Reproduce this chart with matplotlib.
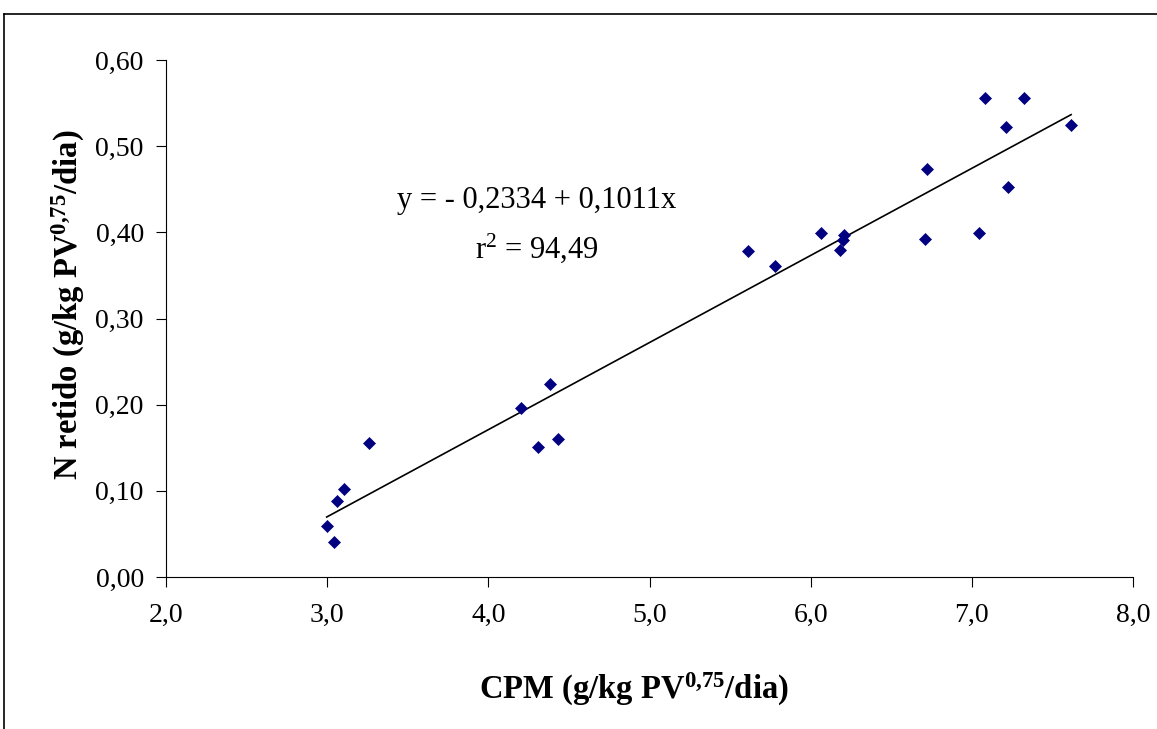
import matplotlib
matplotlib.use("Agg")
import matplotlib.pyplot as plt
from matplotlib.lines import Line2D
import numpy as np

# Data
cpm = [2.997, 3.044, 3.059, 3.106, 3.261, 4.200, 4.310, 4.382, 4.430,
       5.611, 5.778, 6.065, 6.185, 6.200, 6.205, 6.708, 6.721, 7.043,
       7.081, 7.211, 7.223, 7.321, 7.616]
n_retido = [0.0595, 0.041, 0.088, 0.102, 0.156, 0.1965, 0.151, 0.2236, 0.160,
            0.378, 0.361, 0.399, 0.380, 0.391, 0.397, 0.392, 0.473, 0.399,
            0.556, 0.5226, 0.453, 0.556, 0.525]
intercept = -0.2334
slope = 0.1011
x_ticks = [2.0, 3.0, 4.0, 5.0, 6.0, 7.0, 8.0]
x_ticklabels = ["2,0", "3,0", "4,0", "5,0", "6,0", "7,0", "8,0"]
y_ticks = [0.0, 0.1, 0.2, 0.3, 0.4, 0.5, 0.6]
y_ticklabels = ["0,00", "0,10", "0,20", "0,30", "0,40", "0,50", "0,60"]

plt.rcParams["font.family"] = ["Liberation Serif", "DejaVu Serif"]
plt.rcParams["mathtext.fontset"] = "custom"
plt.rcParams["mathtext.rm"] = "Liberation Serif"
plt.rcParams["mathtext.bf"] = "Liberation Serif:bold"
plt.rcParams["mathtext.it"] = "Liberation Serif:italic"

fig = plt.figure(figsize=(11.57, 7.29), dpi=100)
ax = fig.add_axes([166/1157, 1-577/729, (1133-166)/1157, (577-60)/729])

ax.plot(cpm, n_retido, linestyle="none", marker="D", markersize=6.6,
        color="#000080", markeredgecolor="#000080", markeredgewidth=0.5, zorder=3)
xl = np.array([min(cpm), max(cpm)])
ax.plot(xl, intercept + slope * xl, color="black", linewidth=1.2, zorder=2)

ax.set_xlim(2.0, 8.0)
ax.set_ylim(0.0, 0.6)
ax.set_xticks(x_ticks)
ax.set_xticklabels(x_ticklabels)
ax.set_yticks(y_ticks)
ax.set_yticklabels(y_ticklabels)
ax.tick_params(direction="out", length=7, width=0.8, labelsize=20, pad=9)
ax.tick_params(axis="x", pad=12)
for s in ["top", "right"]:
    ax.spines[s].set_visible(False)
for s in ["left", "bottom"]:
    ax.spines[s].set_linewidth(0.8)

fig.text(634/1157, 1-689/729, r"CPM (g/kg PV$^{\mathbf{0{,}75}}$/dia)",
         ha="center", va="center", fontsize=23.5, fontweight="bold")
fig.text(68/1157, 1-305/729, r"N retido (g/kg PV$^{\mathbf{0{,}75}}$/dia)",
         ha="center", va="center", fontsize=23.5, fontweight="bold", rotation=90)

ax.text(4.3, 0.437, "y = - 0,2334 + 0,1011x", ha="center", va="center", fontsize=22)
ax.text(4.3, 0.382, r"r$^2$ = 94,49", ha="center", va="center", fontsize=22)

# figure border (top and left edges visible)
top = 1 - 14/729
left = 4/1157
fig.add_artist(Line2D([left, 1.0], [top, top], color="black", linewidth=1.2,
                      transform=fig.transFigure))
fig.add_artist(Line2D([left, left], [0.0, top], color="black", linewidth=1.2,
                      transform=fig.transFigure))

fig.savefig("out.png", dpi=100)
